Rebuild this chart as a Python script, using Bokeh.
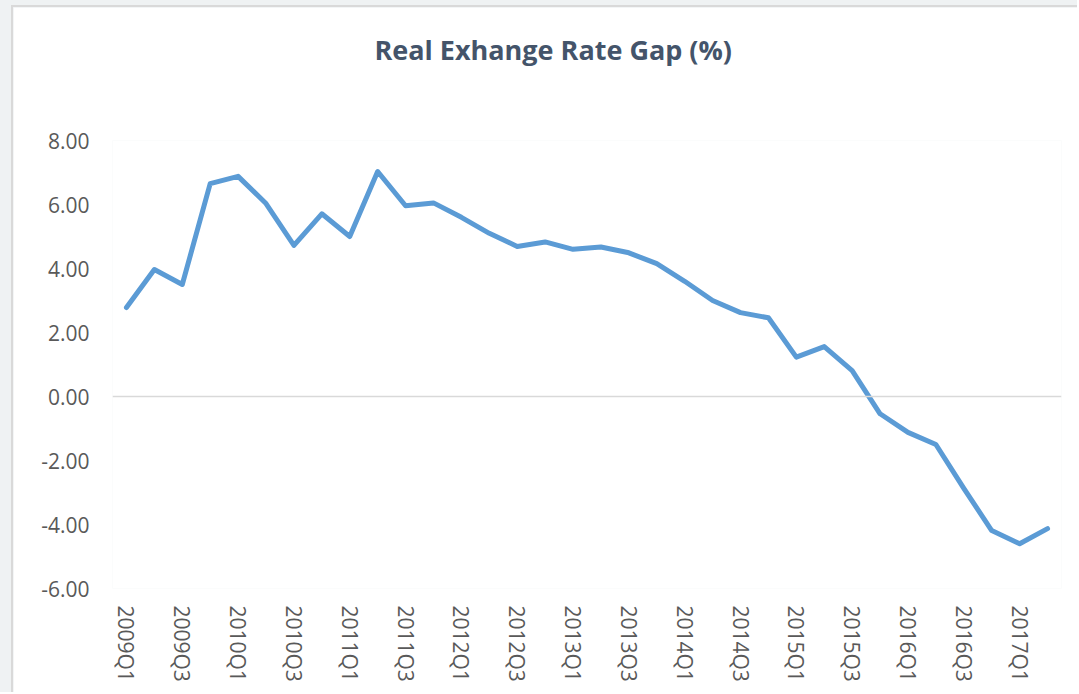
import math
from bokeh.plotting import figure
from bokeh.layouts import column
from bokeh.models import Range1d, FixedTicker, PrintfTickFormatter, Span, Title
from bokeh.embed import file_html
from bokeh.resources import INLINE

quarters = [
    "2009Q1", "2009Q2", "2009Q3", "2009Q4",
    "2010Q1", "2010Q2", "2010Q3", "2010Q4",
    "2011Q1", "2011Q2", "2011Q3", "2011Q4",
    "2012Q1", "2012Q2", "2012Q3", "2012Q4",
    "2013Q1", "2013Q2", "2013Q3", "2013Q4",
    "2014Q1", "2014Q2", "2014Q3", "2014Q4",
    "2015Q1", "2015Q2", "2015Q3", "2015Q4",
    "2016Q1", "2016Q2", "2016Q3", "2016Q4",
    "2017Q1", "2017Q2",
]
gap = [
    2.78, 3.97, 3.50, 6.65,
    6.88, 6.03, 4.72, 5.71,
    5.00, 7.03, 5.96, 6.05,
    5.60, 5.10, 4.69, 4.83,
    4.60, 4.67, 4.49, 4.15,
    3.60, 3.00, 2.62, 2.46,
    1.23, 1.56, 0.81, -0.54,
    -1.12, -1.50, -2.87, -4.19,
    -4.60, -4.13,
]
y_ticks = [-6, -4, -2, 0, 2, 4, 6, 8]
title_text = "Real Exhange Rate Gap (%)"

x = list(range(len(quarters)))

FONT = "Open Sans"
LABEL_COLOR = "#595959"

p = figure(
    width=1066, height=687,
    x_range=Range1d(-0.5, len(quarters) - 0.5),
    y_range=Range1d(y_ticks[0], y_ticks[-1]),
    output_backend="svg", toolbar_location=None, tools="",
    min_border_left=99, min_border_right=18,
    min_border_top=133, min_border_bottom=106,
)
p.margin = (5, 0, 0, 11)
p.styles = {"border-left": "2px solid #d9d9d9", "border-top": "2px solid #d9d9d9"}
p.outline_line_color = None
p.background_fill_color = "white"
p.border_fill_color = "white"
p.xgrid.visible = False
p.ygrid.visible = False

# blank spacer between the frame and the title
p.add_layout(Title(text=" ", text_font_size="26px", standoff=34), "above")

# title
p.title.text = title_text
p.title.align = "left"
p.title.offset = 262
p.title.vertical_align = "top"
p.title.standoff = 10
p.title.text_font = FONT
p.title.text_font_style = "bold"
p.title.text_font_size = "27px"
p.title.text_color = "#44546A"

# zero line (horizontal axis line)
p.add_layout(Span(location=0, dimension="width", line_color="#d9d9d9", line_width=1.5))

p.line(x, gap, line_color="#5B9BD5", line_width=5, line_join="round", line_cap="round")

# y axis
p.yaxis.ticker = FixedTicker(ticks=y_ticks)
p.yaxis.formatter = PrintfTickFormatter(format="%.2f")
p.yaxis.axis_line_color = None
p.yaxis.major_tick_line_color = None
p.yaxis.minor_tick_line_color = None
p.yaxis.major_tick_out = 0
p.yaxis.major_label_standoff = 23
p.yaxis.major_label_text_font = FONT
p.yaxis.major_label_text_font_size = "21px"
p.yaxis.major_label_text_color = LABEL_COLOR

# x axis: every second quarter labelled, text running top-to-bottom
shown = x[::2]
p.xaxis.ticker = FixedTicker(ticks=shown)
p.xaxis.major_label_overrides = {i: quarters[i] for i in shown}
p.xaxis.major_label_orientation = -math.pi / 2
p.xaxis.axis_line_color = None
p.xaxis.major_tick_line_color = None
p.xaxis.minor_tick_line_color = None
p.xaxis.major_tick_out = 0
p.xaxis.major_label_standoff = 17
p.xaxis.major_label_text_font = FONT
p.xaxis.major_label_text_font_size = "21px"
p.xaxis.major_label_text_color = LABEL_COLOR

layout = column(p, styles={"background-color": "#eff2f3"})

open("out.html", "w").write(file_html(layout, INLINE))
